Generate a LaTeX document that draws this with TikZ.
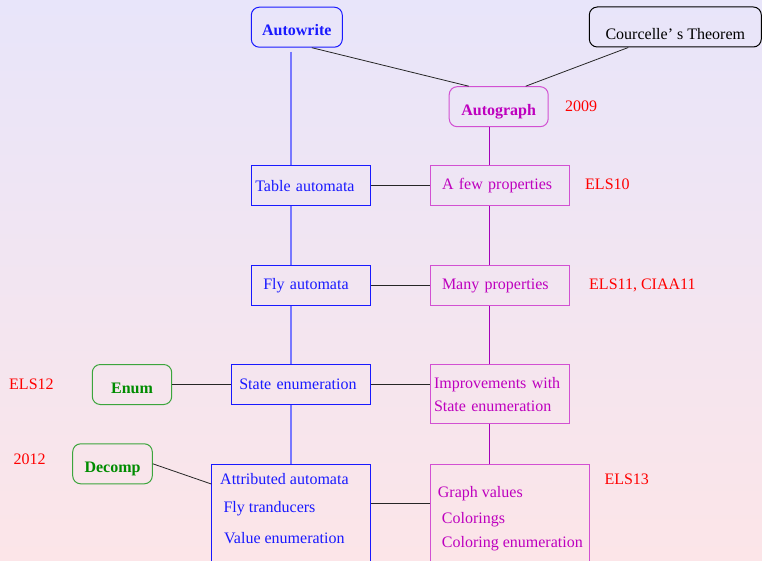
\documentclass[tikz,border=0pt]{standalone}
\usepackage{fontspec}
\setmainfont{Liberation Serif}
\usetikzlibrary{positioning}

\definecolor{awblue}{RGB}{25,25,255}
\definecolor{awlink}{RGB}{120,120,255}
\definecolor{agmag}{RGB}{190,0,190}
\definecolor{agframe}{RGB}{210,80,210}
\definecolor{aglink}{RGB}{165,0,185}
\definecolor{enumgreen}{RGB}{0,140,0}
\definecolor{enumframe}{RGB}{60,165,60}
\definecolor{bgtop}{RGB}{232,229,250}
\definecolor{bgbottom}{RGB}{252,229,232}

\begin{document}
\begin{tikzpicture}[
  x=1pt, y=-1pt,
  font=\fontsize{16}{19}\selectfont,
  blockbox/.style={rectangle, draw, line width=1pt, minimum height=40pt, inner ysep=0pt, align=left},
  bluebox/.style={blockbox, draw=awblue, text=awblue},
  magbox/.style={blockbox, draw=agframe, text=agmag},
  roundbox/.style={rectangle, rounded corners=8pt, draw, line width=1pt, minimum height=40pt,
    inner ysep=3pt, text height=25pt, text depth=8pt, font=\fontsize{16}{19}\selectfont\bfseries},
  year/.style={text=red, anchor=base west, inner sep=0pt},
  link/.style={draw=black!85, line width=0.8pt}
]

% Background
\clip (0,0) rectangle (762,561);
\shade[top color=bgtop, bottom color=bgbottom] (0,0) rectangle (762,561);

% Top: origins
\node[roundbox, draw=awblue, text=awblue, minimum width=91pt] (autowrite) at (296.8,27.2) {Autowrite};
\node[roundbox, draw=black, font=\fontsize{16}{19}\selectfont, minimum width=172pt,
  text height=29.3pt, text depth=4.7pt] (courcelle) at (675.3,27) {Courcelle’ s Theorem};
\node[roundbox, draw=agframe, text=agmag, minimum width=99pt] (autograph) at (498.7,106.7) {Autograph};
\node[year] (y2009) at (565,111.7) {2009};

% Autowrite column
\node[bluebox, text width=111pt, inner xsep=4pt] (table) at (310.8,185.7) {Table automata};
\node[bluebox, text width=95pt, inner xsep=12pt] (fly) at (310.8,285.7) {Fly automata};
\node[bluebox, text width=123pt, inner xsep=8pt] (state) at (300.8,384.5) {State enumeration};
\node[bluebox, anchor=north west, minimum width=159pt, minimum height=130pt] (attr) at (211.3,463.7) {};
\node[text=awblue, anchor=north west, inner sep=0pt, align=left] (attrtext) at (220,473.1)
  {Attributed automata\\[8.7pt]\hspace*{3.3pt}Fly tranducers\\[12pt]\hspace*{4pt}Value enumeration};

% Autograph column
\node[magbox, text width=115pt, inner xsep=12pt] (few) at (499.5,185.7) {A few properties};
\node[magbox, text width=115pt, inner xsep=12pt] (many) at (499.5,285.7) {Many properties};
\node[magbox, text width=131pt, inner xsep=4pt, minimum height=59.3pt] (improve) at (499.5,394.3)
  {Improvements with\\[4pt]State enumeration};
\node[magbox, anchor=north west, minimum width=158.7pt, minimum height=130pt] (graph) at (430,463.7) {};
\node[text=agmag, anchor=north west, inner sep=0pt, align=left] (graphtext) at (437.7,485.7)
  {Graph values\\[7.6pt]\hspace*{4pt}Colorings\\[4.4pt]\hspace*{4pt}Coloring enumeration};

% Enum and Decomp
\node[roundbox, draw=enumframe, text=enumgreen, minimum width=79.4pt] (enum) at (132,384.5) {Enum};
\node[roundbox, draw=enumframe, text=enumgreen, minimum width=79.6pt] (decomp) at (112.5,463.8) {Decomp};

% References
\node[year] (els10) at (585,190) {ELS10};
\node[year] (els11) at (589,289.3) {ELS11, CIAA11};
\node[year] (els12) at (9,389.3) {ELS12};
\node[year] (y2012) at (13.3,464) {2012};
\node[year] (els13) at (604.3,484) {ELS13};

% Spines
\coordinate (bluex) at (291,0);
\coordinate (magx) at (489,0);
\draw[awlink, line width=1.4pt, shorten <=4pt] (autowrite.south -| bluex) -- (table.north -| bluex);
\foreach \a/\b in {table/fly, fly/state, state/attr}
  \draw[awlink, line width=1.4pt] (\a.south -| bluex) -- (\b.north -| bluex);
\foreach \a/\b in {autograph/few, few/many, many/improve, improve/graph}
  \draw[aglink, line width=1pt] (\a.south -| magx) -- (\b.north -| magx);

% Connections
\draw[link] ([xshift=15pt]autowrite.south) -- ([xshift=-30pt]autograph.north);
\draw[link] ([xshift=-47pt]courcelle.south) -- ([xshift=27pt]autograph.north);
\draw[link] (table) -- (few);
\draw[link] (fly) -- (many);
\draw[link] (enum) -- (state);
\draw[link] (state.east) -- (state.east -| improve.west);
\draw[link] (decomp.east) -- ([yshift=-20.3pt]attr.north west);
\draw[link] ([yshift=-39.6pt]attr.north east) -- ([yshift=-39.6pt]graph.north west);

\end{tikzpicture}
\end{document}
